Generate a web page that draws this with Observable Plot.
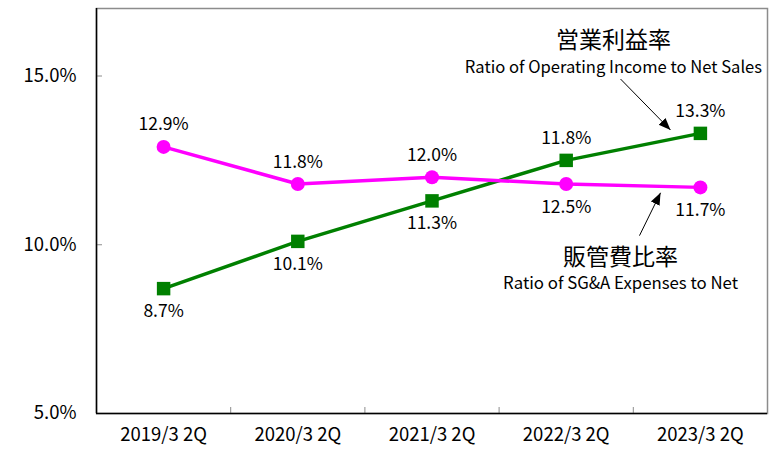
<!DOCTYPE html>
<html><head><meta charset="utf-8">
<script src="https://cdn.jsdelivr.net/npm/d3@7"></script>
<script src="https://cdn.jsdelivr.net/npm/@observablehq/plot@0.6"></script>
<style>body{margin:0;background:#fff}</style>
</head><body><div id="chart"></div>
<script>
// ---- data ----
const periods = ["2019/3 2Q", "2020/3 2Q", "2021/3 2Q", "2022/3 2Q", "2023/3 2Q"];
const operatingRatio = [8.7, 10.1, 11.3, 12.5, 13.3];   // 営業利益率
const sgaRatio = [12.9, 11.8, 12.0, 11.8, 11.7];         // 販管費比率
const yTicks = [5, 10, 15];
const opTitle = "営業利益率";
const opSubtitle = "Ratio of Operating Income to Net Sales";
const sgaTitle = "販管費比率";
const sgaSubtitle = "Ratio of SG&A Expenses to Net";

// ---- build ----
const FONT = "'Noto Sans CJK JP', 'Noto Sans', sans-serif";
const GREEN = "#008000", MAGENTA = "#ff00ff";
const idx = periods.map((_, i) => i);
const last = periods.length - 1;
const opRows = idx.map(i => ({i, v: operatingRatio[i]}));
const sgaRows = idx.map(i => ({i, v: sgaRatio[i]}));

function labelRows(values, other, aboveDefault) {
  return values.map((v, i) => {
    const above = i === last ? v >= other[i] : aboveDefault;
    const y = above ? Math.max(v, other[i]) : Math.min(v, other[i]);
    return {i, y, above, text: v.toFixed(1) + "%"};
  });
}
const labels = [...labelRows(operatingRatio, sgaRatio, false), ...labelRows(sgaRatio, operatingRatio, true)];

function filledArrow(color) {
  const m = d3.create("svg:marker")
    .attr("viewBox", "0 -5 10 10").attr("refX", 10).attr("refY", 0)
    .attr("markerUnits", "userSpaceOnUse")
    .attr("markerWidth", 12).attr("markerHeight", 12)
    .attr("orient", "auto");
  m.append("path").attr("d", "M0,-4L10,0L0,4Z").attr("fill", color).attr("stroke", "none");
  return m.node();
}

const W = 778, H = 450, mL = 96, mR = 11, mT = 8, mB = 37;
const plotW = W - mL - mR, plotH = H - mT - mB;

const plot = Plot.plot({
  width: W, height: H,
  marginLeft: mL, marginRight: mR, marginTop: mT, marginBottom: mB,
  style: {fontFamily: FONT, fontSize: "17px", color: "#000", background: "#fff"},
  x: {domain: [-0.5, last + 0.5]},
  y: {domain: [5, 17]},
  marks: [
    Plot.frame({stroke: "#8c8c8c", strokeWidth: 1.5}),
    Plot.tickY(yTicks, {y: d => d, stroke: "#8c8c8c", insetRight: plotW - 6}),
    Plot.tickX(idx.slice(0, -1), {x: i => i + 0.5, stroke: "#8c8c8c", insetTop: plotH - 6}),
    Plot.ruleY([5], {stroke: "#000", strokeWidth: 1.5}),
    Plot.ruleX([-0.5], {stroke: "#000", strokeWidth: 1.5}),
    Plot.axisY(yTicks, {tickSize: 0, tickPadding: 20, tickFormat: d => d.toFixed(1) + "%", label: null, fontSize: 18.5}),
    Plot.axisX(idx, {tickSize: 0, tickPadding: 14, tickFormat: i => periods[i], label: null, fontSize: 18.5}),
    Plot.line(opRows, {x: "i", y: "v", stroke: GREEN, strokeWidth: 3.5}),
    Plot.dot(opRows, {x: "i", y: "v", symbol: "square", r: 7.6, fill: GREEN}),
    Plot.line(sgaRows, {x: "i", y: "v", stroke: MAGENTA, strokeWidth: 3.5}),
    Plot.dot(sgaRows, {x: "i", y: "v", r: 7, fill: MAGENTA}),
    Plot.text(labels.filter(d => d.above), {x: "i", y: "y", text: "text", dy: -22, fontSize: 17.5, fill: "#000"}),
    Plot.text(labels.filter(d => !d.above), {x: "i", y: "y", text: "text", dy: 23, fontSize: 17.5, fill: "#000"}),
    // annotations (data coordinates)
    Plot.text([opTitle], {x: () => 3.352, y: () => 16.04, text: d => d, fontSize: 23}),
    Plot.text([opSubtitle], {x: () => 3.352, y: () => 15.24, text: d => d, fontSize: 16.6}),
    Plot.text([sgaTitle], {x: () => 3.405, y: () => 9.615, text: d => d, fontSize: 23}),
    Plot.text([sgaSubtitle], {x: () => 3.405, y: () => 8.846, text: d => d, fontSize: 16.8}),
    Plot.link([0], {x1: () => 3.405, y1: () => 14.91, x2: () => 3.777, y2: () => 13.40, stroke: "#000", strokeWidth: 1, markerEnd: filledArrow}),
    Plot.link([0], {x1: () => 3.546, y1: () => 10.27, x2: () => 3.703, y2: () => 11.54, stroke: "#000", strokeWidth: 1, markerEnd: filledArrow})
  ]
});
document.getElementById("chart").appendChild(plot);
</script>
</body></html>
